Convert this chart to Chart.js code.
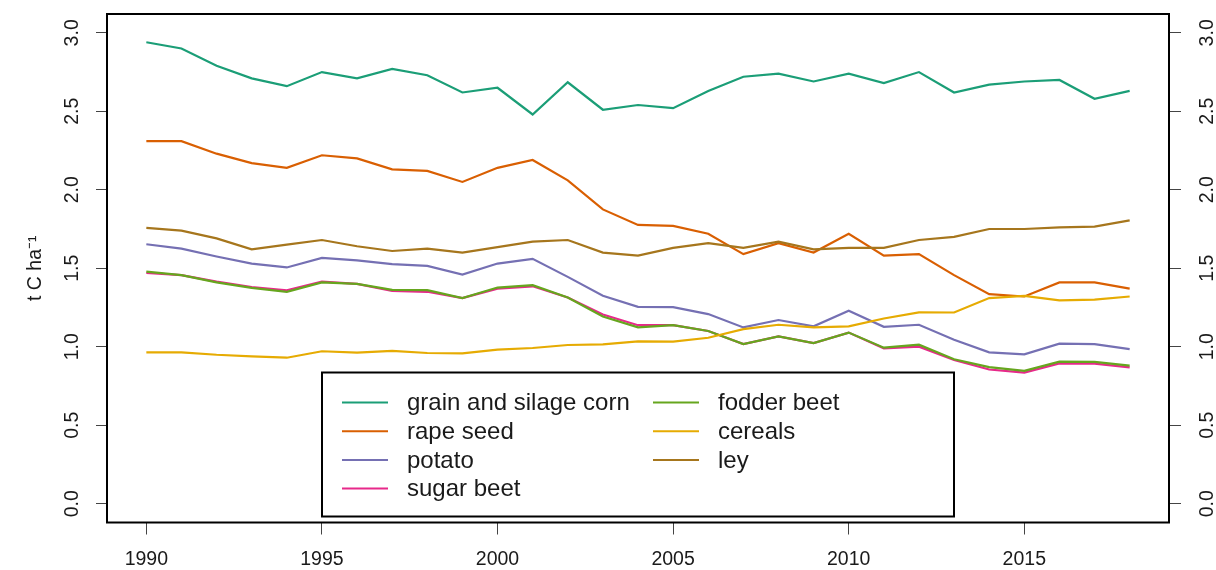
<!DOCTYPE html>
<html>
<head>
<meta charset="utf-8">
<script src="https://cdn.jsdelivr.net/npm/chart.js@4"></script>
<style>
    html, body { margin: 0; padding: 0; background: #fff; }
    #wrap { width: 1216px; height: 570px; position: relative; }
</style>
</head>
<body>
<div id="wrap"><canvas id="chart"></canvas></div>
<script>
const years = [1990, 1991, 1992, 1993, 1994, 1995, 1996, 1997, 1998, 1999,
    2000, 2001, 2002, 2003, 2004, 2005, 2006, 2007, 2008, 2009,
    2010, 2011, 2012, 2013, 2014, 2015, 2016, 2017, 2018];

const cropNames = ['grain and silage corn', 'rape seed', 'potato', 'sugar beet',
    'fodder beet', 'cereals', 'ley'];

const corn = [2.94, 2.90, 2.79, 2.71, 2.66, 2.75, 2.71, 2.77, 2.73, 2.62, 2.65, 2.48, 2.685, 2.51, 2.54,
    2.52, 2.63, 2.72, 2.74, 2.69, 2.74, 2.68, 2.75, 2.62, 2.67, 2.69, 2.70, 2.58, 2.63];
const rapeSeed = [2.31, 2.31, 2.23, 2.17, 2.14, 2.22, 2.20, 2.13, 2.12, 2.05, 2.14, 2.19, 2.06, 1.875, 1.776,
    1.77, 1.72, 1.59, 1.66, 1.60, 1.72, 1.58, 1.59, 1.456, 1.335, 1.32, 1.41, 1.41, 1.37];
const potato = [1.653, 1.625, 1.575, 1.53, 1.505, 1.566, 1.55, 1.526, 1.515, 1.46, 1.53, 1.56, 1.445, 1.325, 1.254,
    1.252, 1.208, 1.123, 1.17, 1.13, 1.229, 1.127, 1.14, 1.045, 0.964, 0.951, 1.02, 1.017, 0.985];
const sugarBeet = [1.47, 1.456, 1.415, 1.38, 1.36, 1.415, 1.40, 1.355, 1.35, 1.31, 1.37, 1.385, 1.314, 1.205, 1.137,
    1.138, 1.10, 1.017, 1.066, 1.023, 1.09, 0.99, 1.00, 0.915, 0.855, 0.835, 0.894, 0.892, 0.868];
const fodderBeet = [1.479, 1.456, 1.41, 1.375, 1.35, 1.41, 1.40, 1.362, 1.36, 1.31, 1.377, 1.392, 1.314, 1.193, 1.123,
    1.138, 1.10, 1.017, 1.066, 1.023, 1.09, 0.994, 1.013, 0.92, 0.87, 0.846, 0.905, 0.903, 0.88];
const cereals = [0.964, 0.964, 0.949, 0.939, 0.93, 0.971, 0.962, 0.973, 0.96, 0.958, 0.981, 0.992, 1.011, 1.015, 1.034,
    1.032, 1.057, 1.112, 1.14, 1.123, 1.13, 1.18, 1.219, 1.218, 1.31, 1.324, 1.295, 1.30, 1.32];
const ley = [1.757, 1.74, 1.69, 1.62, 1.65, 1.68, 1.64, 1.61, 1.625, 1.60, 1.635, 1.67, 1.68, 1.60, 1.58,
    1.63, 1.66, 1.63, 1.67, 1.62, 1.63, 1.63, 1.68, 1.70, 1.75, 1.75, 1.76, 1.765, 1.805];

const xTicks = [1990, 1995, 2000, 2005, 2010, 2015];
const yTicks = [0, 0.5, 1, 1.5, 2, 2.5, 3];

const series = [corn, rapeSeed, potato, sugarBeet, fodderBeet, cereals, ley];
const colors = ['#1B9E77', '#D95F02', '#7570B3', '#E7298A', '#66A61E', '#E6AB02', '#A6761D'];

const FONT = '"Liberation Sans", Arial, Helvetica, sans-serif';
Chart.defaults.font.family = FONT;
Chart.defaults.color = '#1a1a1a';

// black frame round the plot region, like R's box()
const framePlugin = {
    id: 'frame',
    afterDatasetsDraw(chart) {
        const { ctx, chartArea: a } = chart;
        ctx.save();
        ctx.strokeStyle = '#000';
        ctx.lineWidth = 2;
        ctx.strokeRect(a.left, a.top, a.right - a.left, a.bottom - a.top);
        ctx.restore();
    }
};

// two-column legend box at the bottom of the plot, filled column first
const boxLegendPlugin = {
    id: 'boxLegend',
    afterDraw(chart) {
        const { ctx, chartArea: a } = chart;
        const w = 632, h = 144;
        const left = Math.round((a.left + a.right) / 2 - w / 2);
        const top = a.bottom - 6 - h;
        ctx.save();
        ctx.fillStyle = '#fff';
        ctx.fillRect(left, top, w, h);
        ctx.strokeStyle = '#000';
        ctx.lineWidth = 2;
        ctx.strokeRect(left, top, w, h);

        ctx.font = '24px ' + FONT;
        ctx.textBaseline = 'middle';
        ctx.textAlign = 'left';
        const rows = 4;
        chart.data.datasets.forEach((ds, i) => {
            const col = Math.floor(i / rows);
            const row = i % rows;
            const x0 = left + 20 + col * 311;
            const y = top + 30 + row * 28.7;
            ctx.strokeStyle = ds.borderColor;
            ctx.lineWidth = 2;
            ctx.beginPath();
            ctx.moveTo(x0, y);
            ctx.lineTo(x0 + 46, y);
            ctx.stroke();
            ctx.fillStyle = '#1a1a1a';
            ctx.fillText(ds.label, x0 + 65, y + 1);
        });
        ctx.restore();
    }
};

const tickFont = { size: 19.5 };

// fixed box sizes so the plot region lands where R put it
const fixWidth = (w) => (s) => { s.width = w; s.paddingTop = 0; s.paddingBottom = 0; };

new Chart(document.getElementById('chart'), {
    type: 'line',
    data: {
        datasets: cropNames.map((name, i) => ({
            label: name,
            data: years.map((yr, j) => ({ x: yr, y: series[i][j] })),
            borderColor: colors[i],
            backgroundColor: colors[i],
            borderWidth: 2.2,
            pointRadius: 0,
            tension: 0,
            order: cropNames.length - i
        }))
    },
    options: {
        responsive: true,
        maintainAspectRatio: false,
        animation: false,
        layout: { padding: { top: 14, left: 0, right: 0, bottom: 0 } },
        plugins: {
            legend: { display: false },
            tooltip: { enabled: false }
        },
        scales: {
            x: {
                type: 'linear',
                min: 1988.88,
                max: 2019.12,
                afterBuildTicks: (s) => { s.ticks = xTicks.map(v => ({ value: v })); },
                afterFit: (s) => { s.height = 47.5; s.paddingLeft = 0; s.paddingRight = 0; },
                ticks: {
                    font: tickFont,
                    padding: 13,
                    maxRotation: 0,
                    autoSkip: false,
                    callback: (v) => String(v)
                },
                grid: { drawOnChartArea: false, tickLength: 12, tickColor: '#444', tickWidth: 1 },
                border: { display: false }
            },
            y: {
                position: 'left',
                min: -0.12,
                max: 3.12,
                afterBuildTicks: (s) => { s.ticks = yTicks.map(v => ({ value: v })); },
                afterFit: fixWidth(107),
                title: {
                    display: true,
                    text: 't C ha\u207B\u00B9',
                    font: { size: 19.5 },
                    padding: { top: 24, bottom: 0 }
                },
                ticks: {
                    font: tickFont,
                    minRotation: 90,
                    maxRotation: 90,
                    crossAlign: 'center',
                    padding: 10,
                    autoSkip: false,
                    callback: (v) => v.toFixed(1)
                },
                grid: { drawOnChartArea: false, tickLength: 11, tickColor: '#444', tickWidth: 1 },
                border: { display: false }
            },
            y2: {
                position: 'right',
                min: -0.12,
                max: 3.12,
                afterBuildTicks: (s) => { s.ticks = yTicks.map(v => ({ value: v })); },
                afterFit: fixWidth(47),
                ticks: {
                    font: tickFont,
                    minRotation: 90,
                    maxRotation: 90,
                    crossAlign: 'center',
                    padding: 13,
                    autoSkip: false,
                    callback: (v) => v.toFixed(1)
                },
                grid: { drawOnChartArea: false, tickLength: 12, tickColor: '#444', tickWidth: 1 },
                border: { display: false }
            }
        }
    },
    plugins: [framePlugin, boxLegendPlugin]
});
</script>
</body>
</html>
